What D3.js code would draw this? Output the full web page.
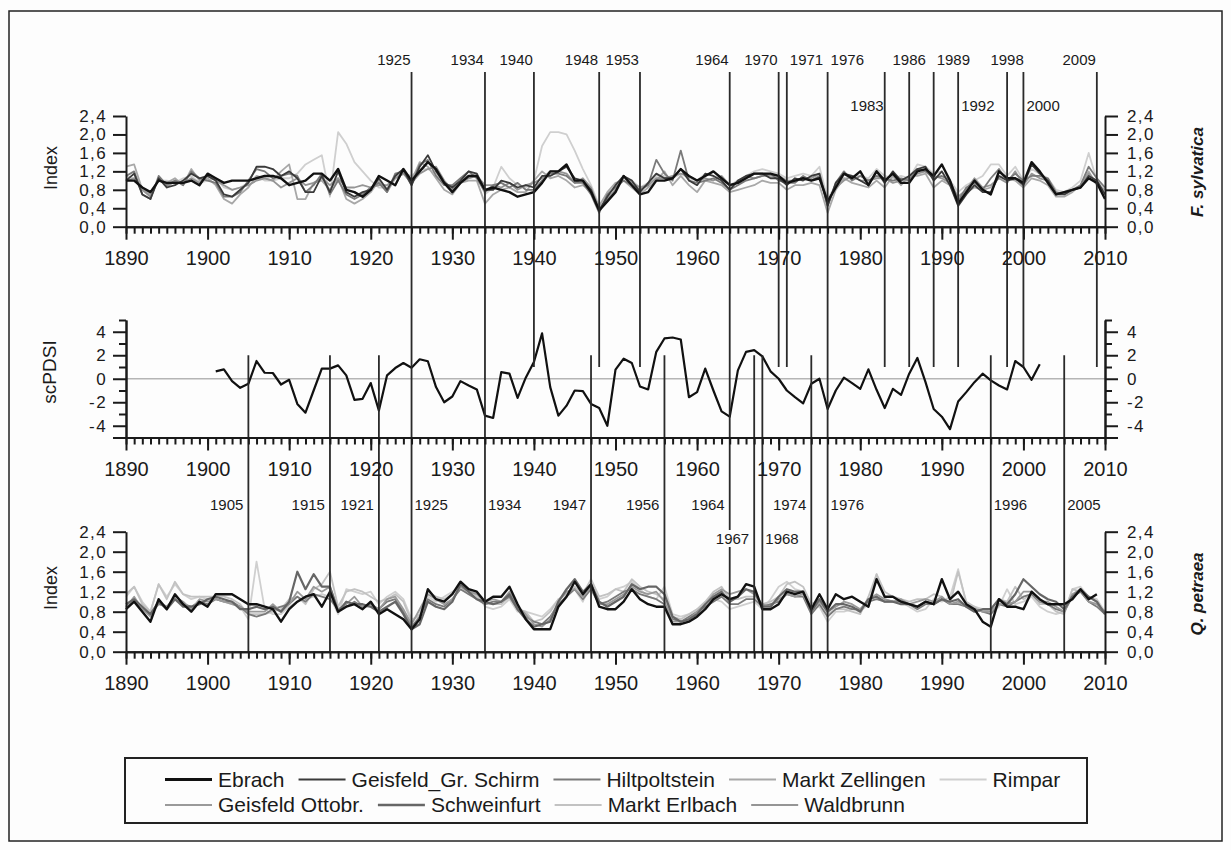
<!DOCTYPE html>
<html>
<head>
<meta charset="utf-8">
<script src="https://cdn.jsdelivr.net/npm/d3@7"></script>
<style>
  body { margin: 0; background: #fdfdfd; }
  text { font-family: Arial, "Liberation Sans", sans-serif; fill: #1a1a1a; }
</style>
</head>
<body>
<div id="chart"></div>
<script>
// ---- data ----
var years = d3.range(1890, 2011);

// F. sylvatica ring-width indices (1890-2010)
var beechEbrach = [
  1.0, 1.0, 0.85, 0.75, 1.0, 0.95, 0.95, 0.95, 1.0, 0.9,
  1.15, 1.05, 0.95, 1.0, 1.0, 1.0, 1.05, 1.1, 1.1, 1.05,
  0.9, 0.95, 1.0, 1.15, 1.15, 1.0, 1.25, 0.8, 0.75, 0.65,
  0.8, 1.1, 1.0, 0.9, 1.25, 1.0, 1.2, 1.4, 1.25, 0.95,
  0.75, 0.95, 1.1, 1.1, 0.8, 0.85, 0.8, 0.75, 0.65, 0.7,
  0.75, 0.95, 1.2, 1.2, 1.35, 1.0, 1.0, 0.75, 0.35, 0.55,
  0.75, 1.1, 0.9, 0.7, 0.75, 1.0, 1.0, 1.05, 1.25, 1.1,
  1.0, 1.1, 1.2, 1.05, 0.9, 0.95, 1.05, 1.15, 1.15, 1.15,
  1.1, 0.95, 1.0, 1.05, 1.0, 1.05, 0.55, 0.85, 1.15, 1.05,
  1.2, 0.9, 1.2, 1.0, 1.15, 0.95, 0.95, 1.2, 1.25, 1.1,
  1.35, 1.0, 0.5, 0.75, 1.0, 0.8, 0.7, 1.2, 1.05, 1.05,
  0.95, 1.4, 1.2, 0.95, 0.7, 0.75, 0.8, 0.85, 1.05, 0.95, 0.6
];
var beechGeisfeldGr = [
  1.0, 1.15, 0.7, 0.6, 1.05, 0.85, 0.9, 1.0, 1.15, 1.05,
  1.1, 1.0, 0.7, 0.65, 0.8, 0.95, 1.3, 1.3, 1.25, 1.1,
  1.2, 1.05, 0.75, 0.75, 1.1, 0.75, 1.2, 0.75, 0.65, 0.75,
  0.8, 1.05, 0.8, 1.1, 1.25, 0.9, 1.3, 1.55, 1.2, 0.95,
  0.85, 1.0, 1.2, 1.15, 0.8, 0.8, 1.0, 0.95, 0.85, 0.9,
  0.85, 1.1, 1.1, 1.2, 1.3, 1.05, 1.0, 0.8, 0.35, 0.65,
  0.9, 1.1, 1.0, 0.75, 0.95, 1.15, 1.05, 1.05, 1.25, 1.0,
  0.9, 1.15, 1.1, 1.0, 0.8, 1.0, 1.1, 1.15, 1.15, 1.05,
  1.05, 0.9, 1.05, 1.0, 1.1, 1.15, 0.45, 0.95, 1.15, 1.1,
  1.0, 0.9, 1.2, 0.95, 1.2, 1.0, 1.1, 1.25, 1.3, 1.0,
  1.2, 0.9, 0.45, 0.7, 0.9, 0.75, 0.75, 1.1, 1.0, 1.05,
  0.9, 1.35, 1.15, 1.0, 0.7, 0.7, 0.8, 0.85, 1.1, 1.0, 0.7
];
var beechHiltpoltstein = [
  1.1, 1.2, 0.7, 0.6, 1.1, 0.9, 1.0, 0.9, 1.2, 1.05,
  1.0, 0.95, 0.65, 0.65, 0.75, 1.0, 1.25, 1.2, 1.05, 1.1,
  1.15, 1.1, 0.75, 0.9, 1.15, 0.7, 1.0, 0.7, 0.6, 0.7,
  0.85, 0.95, 0.75, 1.15, 1.2, 0.9, 1.35, 1.45, 1.1, 0.9,
  0.9, 1.05, 1.2, 1.05, 0.75, 0.9, 0.95, 0.85, 0.95, 0.8,
  0.8, 1.0, 1.15, 1.15, 1.1, 0.95, 0.95, 0.7, 0.3, 0.7,
  0.85, 1.0, 0.9, 0.8, 0.9, 1.45, 1.15, 1.0, 1.65, 1.0,
  0.95, 1.0, 1.05, 0.95, 0.8, 0.9, 1.0, 1.05, 1.1, 1.15,
  1.0, 0.95, 0.95, 1.1, 1.0, 1.1, 0.45, 0.95, 1.2, 1.0,
  1.1, 1.0, 1.1, 1.05, 1.0, 1.05, 1.0, 1.25, 1.2, 1.05,
  1.1, 1.0, 0.55, 0.85, 0.95, 0.8, 1.05, 1.25, 1.0, 1.15,
  1.0, 1.1, 1.1, 1.05, 0.75, 0.7, 0.8, 0.9, 1.3, 1.05, 0.85
];
var beechZellingen = [
  1.3, 1.35, 0.8, 0.7, 1.0, 0.95, 1.05, 0.9, 1.25, 1.0,
  1.05, 0.9, 0.6, 0.5, 0.7, 0.85, 1.1, 1.05, 1.0, 1.2,
  1.35, 0.6, 0.6, 0.95, 1.0, 0.8, 1.05, 0.6, 0.5, 0.6,
  0.75, 1.0, 0.75, 1.05, 1.15, 1.0, 1.4, 1.3, 1.05, 0.8,
  0.7, 0.95, 1.0, 1.0, 0.5, 0.7, 0.8, 0.85, 0.75, 0.75,
  1.0, 1.2, 1.05, 1.1, 1.0, 0.85, 0.9, 0.75, 0.45, 0.75,
  0.95, 1.0, 0.85, 0.7, 0.85, 1.0, 1.2, 0.9, 1.1, 0.9,
  0.75, 1.0, 0.95, 0.9, 0.75, 0.8, 0.85, 0.9, 1.0, 0.95,
  0.95, 0.8, 0.9, 0.9, 0.95, 0.9, 0.3, 0.8, 1.05, 0.95,
  0.9, 0.85, 1.0, 0.85, 1.1, 0.9, 1.1, 1.1, 1.15, 0.85,
  1.0, 0.9, 0.5, 0.75, 0.85, 0.8, 0.85, 1.1, 1.05, 1.0,
  0.85, 1.05, 1.0, 0.9, 0.65, 0.65, 0.75, 0.9, 1.2, 0.9, 0.8
];
var beechRimpar = [
  1.1, 1.05, 0.8, 0.75, 1.0, 1.0, 0.95, 1.05, 1.1, 0.95,
  1.0, 1.05, 0.85, 0.8, 0.85, 0.95, 1.1, 1.0, 1.0, 1.05,
  1.05, 1.15, 1.35, 1.45, 1.55, 0.65, 2.05, 1.8, 1.4, 1.2,
  1.0, 0.85, 0.85, 1.1, 1.15, 1.1, 1.25, 1.25, 1.15, 0.95,
  0.85, 1.05, 1.1, 1.15, 0.7, 0.85, 1.3, 1.05, 0.9, 0.85,
  1.0, 1.75, 2.05, 2.05, 2.0, 1.65, 1.25, 0.9, 0.45, 0.7,
  0.85, 1.05, 1.0, 0.85, 0.95, 1.1, 1.1, 1.05, 1.15, 1.05,
  1.0, 1.15, 1.1, 1.05, 0.9, 1.0, 1.1, 1.2, 1.25, 1.2,
  1.15, 1.05, 1.1, 1.15, 1.1, 1.3, 0.6, 0.9, 1.05, 1.1,
  1.1, 1.05, 1.25, 1.1, 1.05, 1.1, 1.05, 1.35, 1.3, 1.15,
  1.2, 1.0, 0.75, 0.9, 1.0, 1.1, 1.35, 1.35, 1.1, 1.3,
  1.0, 1.25, 1.15, 1.05, 0.8, 0.75, 0.85, 1.0, 1.6, 1.0, 0.8
];
var beechWaldbrunn = [
  1.0, 1.05, 0.8, 0.65, 1.05, 0.85, 1.0, 0.95, 1.05, 0.95,
  1.1, 1.0, 0.9, 0.8, 0.85, 0.9, 1.0, 1.05, 1.0, 0.85,
  0.95, 1.05, 0.9, 0.95, 1.05, 0.9, 1.05, 0.85, 0.85, 0.9,
  0.85, 0.9, 0.9, 1.05, 1.15, 0.95, 1.15, 1.25, 1.3, 1.0,
  0.8, 0.95, 1.05, 1.1, 0.9, 0.9, 0.85, 0.95, 0.8, 0.9,
  0.95, 1.05, 1.2, 1.2, 1.15, 0.95, 1.05, 0.85, 0.4, 0.6,
  0.8, 1.1, 0.95, 0.85, 0.9, 1.05, 1.05, 1.1, 1.15, 1.1,
  1.0, 1.05, 1.0, 1.1, 0.9, 0.95, 1.1, 1.05, 1.1, 1.1,
  1.1, 1.0, 1.0, 1.05, 1.05, 1.15, 0.55, 0.85, 1.0, 1.1,
  1.0, 1.0, 1.05, 1.05, 0.95, 1.0, 1.05, 1.15, 1.2, 1.1,
  1.05, 0.95, 0.65, 0.8, 1.05, 0.85, 0.9, 1.05, 0.95, 1.2,
  0.9, 1.15, 1.05, 1.0, 0.7, 0.75, 0.8, 0.85, 1.15, 0.95, 0.7
];

// Q. petraea ring-width indices (1890-2010)
var oakEbrach = [
  0.85, 1.0, 0.8, 0.6, 1.05, 0.85, 1.15, 0.95, 0.8, 1.0,
  0.9, 1.15, 1.15, 1.15, 1.05, 0.95, 0.95, 0.9, 0.85, 0.6,
  0.85, 1.0, 1.1, 1.15, 0.9, 1.2, 0.8, 0.9, 0.95, 0.85,
  1.0, 0.75, 0.85, 0.75, 0.65, 0.45, 0.65, 1.25, 1.05, 1.0,
  1.15, 1.4, 1.25, 1.2, 1.0, 1.1, 1.1, 1.3, 0.95, 0.65,
  0.45, 0.45, 0.45, 0.9, 1.1, 1.4, 1.15, 1.35, 0.9, 0.85,
  0.85, 1.0, 1.25, 1.05, 0.95, 0.9, 0.9, 0.55, 0.55, 0.6,
  0.7, 0.85, 1.05, 1.15, 1.05, 1.1, 1.35, 1.3, 0.85, 0.85,
  0.95, 1.2, 1.15, 1.2, 0.85, 1.15, 0.85, 1.15, 1.05, 1.1,
  1.0, 0.9, 1.45, 1.1, 1.1, 1.0, 0.95, 0.9, 1.0, 0.95,
  1.45, 1.05, 1.2, 0.95, 0.85, 0.6, 0.5, 1.05, 0.9, 0.9,
  0.85, 1.2, 1.05, 0.95, 0.95, 0.95, 1.05, 1.25, 1.05, 1.15, null
];
var oakGeisfeldOtt = [
  0.9, 1.1, 0.85, 0.7, 1.0, 0.9, 1.1, 1.0, 0.85, 1.05,
  1.0, 1.05, 1.0, 0.95, 0.9, 0.8, 0.8, 0.8, 0.95, 0.8,
  0.95, 1.2, 1.05, 1.3, 1.2, 1.3, 0.85, 0.95, 1.1, 0.9,
  0.9, 0.85, 1.05, 1.1, 0.85, 0.55, 0.85, 1.15, 1.05, 0.95,
  1.05, 1.3, 1.2, 1.15, 1.0, 1.05, 1.0, 1.2, 0.9, 0.75,
  0.55, 0.5, 0.65, 1.0, 1.2, 1.25, 1.1, 1.3, 0.95, 0.95,
  1.05, 1.15, 1.3, 1.2, 1.15, 1.2, 1.0, 0.6, 0.6, 0.65,
  0.8, 0.95, 1.15, 1.25, 1.15, 1.2, 1.25, 1.15, 0.95, 0.9,
  1.05, 1.15, 1.1, 1.15, 0.8, 1.0, 0.8, 0.9, 1.0, 0.95,
  0.85, 1.05, 1.15, 1.05, 1.0, 1.05, 0.95, 1.0, 1.05, 1.0,
  1.1, 0.95, 1.0, 0.9, 0.85, 0.8, 0.8, 0.95, 0.95, 1.0,
  1.2, 1.2, 1.0, 1.0, 0.9, 0.8, 1.15, 1.25, 1.0, 0.95, 0.8
];
var oakSchweinfurt = [
  0.95, 1.05, 0.9, 0.75, 1.0, 0.85, 1.05, 0.9, 0.9, 0.95,
  1.05, 1.1, 1.05, 1.0, 0.85, 0.85, 0.9, 0.85, 0.9, 0.8,
  1.0, 1.6, 1.25, 1.55, 1.3, 1.3, 0.8, 1.0, 0.95, 0.95,
  0.9, 0.8, 0.9, 1.0, 0.75, 0.45, 0.55, 1.0, 0.9, 0.85,
  1.0, 1.35, 1.2, 1.05, 1.0, 0.95, 1.0, 1.15, 0.85, 0.65,
  0.5, 0.55, 0.6, 1.0, 1.25, 1.45, 1.2, 1.35, 1.0, 0.9,
  1.0, 1.1, 1.35, 1.25, 1.3, 1.3, 1.15, 0.7, 0.6, 0.65,
  0.75, 0.95, 1.1, 1.2, 1.0, 1.1, 1.25, 1.2, 0.9, 0.9,
  1.1, 1.25, 1.2, 1.2, 0.8, 1.05, 0.8, 0.95, 0.95, 0.9,
  0.8, 1.05, 1.1, 1.0, 1.0, 0.95, 0.95, 0.9, 1.0, 0.95,
  1.05, 1.0, 1.05, 0.9, 0.8, 0.85, 0.85, 1.05, 0.95, 1.15,
  1.45, 1.3, 1.15, 1.05, 1.0, 0.85, 1.1, 1.25, 1.1, 1.0, 0.75
];
var oakErlbach = [
  1.15, 1.3, 0.95, 0.8, 1.35, 1.05, 1.4, 1.15, 1.1, 1.1,
  1.1, 1.1, 1.1, 1.05, 0.95, 0.75, 0.75, 0.75, 0.8, 0.85,
  1.05, 1.1, 0.95, 1.25, 1.35, 1.6, 0.9, 1.2, 1.25, 1.2,
  1.1, 1.0, 1.05, 1.15, 1.0, 0.6, 0.75, 1.2, 1.1, 1.05,
  1.15, 1.35, 1.25, 1.1, 0.95, 0.95, 0.95, 1.1, 0.85, 0.8,
  0.6, 0.65, 0.8, 1.05, 1.15, 1.3, 1.15, 1.45, 1.1, 1.15,
  1.25, 1.2, 1.45, 1.3, 1.2, 1.15, 1.05, 0.7, 0.65, 0.75,
  0.85, 1.0, 1.2, 1.3, 1.05, 1.05, 1.1, 1.1, 0.95, 1.0,
  1.1, 1.35, 1.4, 1.3, 0.95, 1.05, 0.75, 0.85, 0.85, 0.8,
  0.75, 1.1, 1.55, 1.2, 1.1, 1.05, 1.0, 1.05, 1.05, 1.15,
  1.1, 0.95, 1.6, 1.0, 0.9, 0.8, 0.85, 1.05, 1.0, 1.3,
  1.05, 1.15, 0.95, 0.95, 0.8, 0.75, 1.25, 1.2, 1.0, 0.95, 0.8
];
var oakHiltpoltstein = [
  0.9, 1.0, 0.85, 0.75, 0.95, 0.9, 1.05, 0.95, 0.9, 1.0,
  0.95, 1.05, 1.0, 1.0, 0.9, 0.75, 0.7, 0.75, 0.85, 0.9,
  0.95, 1.1, 1.0, 1.15, 1.1, 1.05, 0.85, 0.9, 1.0, 0.9,
  0.95, 0.85, 1.0, 1.05, 0.8, 0.5, 0.7, 1.05, 0.95, 0.9,
  1.05, 1.25, 1.15, 1.05, 0.95, 1.0, 1.0, 1.1, 0.85, 0.7,
  0.6, 0.55, 0.7, 0.95, 1.1, 1.25, 1.05, 1.25, 0.95, 1.0,
  1.1, 1.2, 1.25, 1.15, 1.1, 1.05, 0.95, 0.65, 0.6, 0.7,
  0.8, 0.9, 1.0, 1.1, 0.95, 0.95, 1.05, 1.05, 0.9, 0.95,
  1.0, 1.15, 1.1, 1.1, 0.75, 0.95, 0.7, 0.85, 0.9, 0.85,
  0.85, 1.0, 1.05, 1.0, 1.0, 1.0, 0.95, 0.85, 0.95, 0.95,
  1.05, 0.95, 0.95, 0.9, 0.85, 0.8, 0.75, 0.95, 0.9, 1.0,
  1.1, 1.15, 1.0, 0.95, 0.85, 0.8, 1.1, 1.2, 1.0, 0.9, 0.75
];
var oakRimpar = [
  1.1, 1.3, 1.0, 0.8, 1.35, 1.1, 1.35, 1.15, 1.05, 1.1,
  1.05, 1.05, 1.0, 0.95, 0.9, 0.65, 1.8, 0.85, 0.75, 0.75,
  0.9, 1.0, 1.05, 1.1, 1.15, 1.1, 0.75, 1.25, 1.2, 1.15,
  1.2, 0.95, 1.1, 1.2, 1.05, 0.65, 0.7, 1.1, 1.0, 1.1,
  1.2, 1.3, 1.15, 1.2, 0.9, 0.85, 0.9, 1.05, 0.8, 0.8,
  0.75, 0.7, 0.85, 1.05, 1.15, 1.25, 1.0, 1.35, 1.05, 1.1,
  1.25, 1.3, 1.4, 1.25, 1.1, 1.05, 1.3, 0.75, 0.7, 0.75,
  0.85, 0.9, 1.05, 1.0, 0.85, 0.9, 0.95, 1.0, 0.85, 1.05,
  1.3, 1.4, 1.25, 1.2, 0.85, 0.9, 0.6, 0.8, 0.8, 0.85,
  0.8, 0.95, 1.55, 1.05, 1.0, 1.0, 0.9, 0.8, 0.85, 1.05,
  1.0, 1.1, 1.65, 0.95, 0.9, 0.85, 0.75, 0.9, 1.25, 0.95,
  1.0, 1.1, 0.9, 0.8, 0.75, 0.8, 1.25, 1.3, 1.1, 1.05, 0.8
];

// scPDSI (1901-2002)
var pdsiYears = d3.range(1901, 2003);
var pdsiValues = [
  0.63, 0.8, -0.2, -0.77, -0.43, 1.51, 0.51, 0.49, -0.49, -0.09,
  -2.14, -2.89, -1.0, 0.86, 0.86, 1.14, 0.29, -1.8, -1.71, -0.37,
  -2.71, 0.29, 0.91, 1.34, 0.94, 1.66, 1.49, -0.71, -2.0, -1.51,
  -0.2, -0.57, -0.91, -3.14, -3.34, 0.57, 0.43, -1.63, 0.09, 1.43,
  3.86, -0.71, -3.14, -2.29, -1.0, -1.06, -2.14, -2.49, -4.0, 0.77,
  1.71, 1.34, -0.66, -0.91, 2.29, 3.43, 3.51, 3.34, -1.57, -1.14,
  0.86, -1.0, -2.77, -3.23, 0.71, 2.29, 2.43, 1.91, 0.63, 0.0,
  -1.0, -1.57, -2.09, -0.43, 0.0, -2.57, -1.0, 0.09, -0.37, -0.86,
  0.8, -0.94, -2.49, -0.86, -1.37, 0.43, 1.77, -0.29, -2.57, -3.23,
  -4.29, -1.94, -1.14, -0.29, 0.43, -0.14, -0.57, -0.91, 1.51, 1.0,
  -0.09, 1.23
];

var beechSeries = [
  { site: 'Rimpar', values: beechRimpar },
  { site: 'Markt Zellingen', values: beechZellingen },
  { site: 'Waldbrunn', values: beechWaldbrunn },
  { site: 'Hiltpoltstein', values: beechHiltpoltstein },
  { site: 'Geisfeld_Gr. Schirm', values: beechGeisfeldGr },
  { site: 'Ebrach', values: beechEbrach }
];
var oakSeries = [
  { site: 'Rimpar', values: oakRimpar },
  { site: 'Markt Erlbach', values: oakErlbach },
  { site: 'Hiltpoltstein', values: oakHiltpoltstein },
  { site: 'Geisfeld Ottobr.', values: oakGeisfeldOtt },
  { site: 'Schweinfurt', values: oakSchweinfurt },
  { site: 'Ebrach', values: oakEbrach }
];

var legendRows = [
  ['Ebrach', 'Geisfeld_Gr. Schirm', 'Hiltpoltstein', 'Markt Zellingen', 'Rimpar'],
  ['Geisfeld Ottobr.', 'Schweinfurt', 'Markt Erlbach', 'Waldbrunn']
];

// pointer years
var beechYears = [1925, 1934, 1940, 1948, 1953, 1964, 1970, 1971, 1976, 1983, 1986, 1989, 1992, 1998, 2000, 2009];
var oakYears = [1905, 1915, 1921, 1925, 1934, 1947, 1956, 1964, 1967, 1968, 1974, 1976, 1996, 2005];

var indexTicks = [0, 0.4, 0.8, 1.2, 1.6, 2.0, 2.4];
var pdsiMajor = [-5, -4, -2, 0, 2, 4];
var pdsiMinor = [-3, -1, 1, 3, 5];

// ---- styles / layout ----
var siteStyle = {
  'Ebrach': { color: '#111', width: 2.4 },
  'Geisfeld_Gr. Schirm': { color: '#3a3a3a', width: 1.8 },
  'Hiltpoltstein': { color: '#7a7a7a', width: 1.8 },
  'Markt Zellingen': { color: '#a8a8a8', width: 1.8 },
  'Rimpar': { color: '#cfcfcf', width: 1.8 },
  'Geisfeld Ottobr.': { color: '#9a9a9a', width: 1.8 },
  'Schweinfurt': { color: '#666', width: 2.2 },
  'Markt Erlbach': { color: '#c2c2c2', width: 1.8 },
  'Waldbrunn': { color: '#959595', width: 1.8 }
};
// label side and row for each pointer-year label
var beechLabelPlace = {
  1925: ['end', 1], 1934: ['end', 1], 1940: ['end', 1], 1948: ['end', 1], 1953: ['end', 1],
  1964: ['end', 1], 1970: ['end', 1], 1971: ['start', 1], 1976: ['start', 1], 1983: ['end', 2],
  1986: ['middle', 1], 1989: ['start', 1], 1992: ['start', 2], 1998: ['middle', 1],
  2000: ['start', 2], 2009: ['end', 1]
};
var oakLabelPlace = {
  1905: ['end', 1], 1915: ['end', 1], 1921: ['end', 1], 1925: ['start', 1], 1934: ['start', 1],
  1947: ['end', 1], 1956: ['end', 1], 1964: ['end', 1], 1967: ['end', 2], 1968: ['start', 2],
  1974: ['end', 1], 1976: ['start', 1], 1996: ['start', 1], 2005: ['start', 1]
};

var width = 1231, height = 850;
var svg = d3.select('#chart').append('svg').attr('width', width).attr('height', height);

svg.append('rect').attr('x', 9).attr('y', 11).attr('width', 1213).attr('height', 830)
  .attr('fill', '#fdfdfd').attr('stroke', '#222').attr('stroke-width', 1.5);

var xScale = d3.scaleLinear().domain([1890, 2010]).range([126, 1105]);
var yTop = d3.scaleLinear().domain([0, 2.4]).range([226.7, 116]);
var yMid = d3.scaleLinear().domain([-5, 5]).range([437.5, 320]);
var yBot = d3.scaleLinear().domain([0, 2.4]).range([651.7, 531.7]);

var commaFmt = function(d) { return d.toFixed(1).replace('.', ','); };

// ---- series ----
function drawSeries(series, yScale) {
  var line = d3.line()
    .defined(function(d) { return d != null; })
    .x(function(d, i) { return xScale(years[i]); })
    .y(function(d) { return yScale(d); });
  svg.append('g').selectAll('path').data(series).enter().append('path')
    .attr('d', function(s) { return line(s.values); })
    .attr('fill', 'none')
    .attr('stroke', function(s) { return siteStyle[s.site].color; })
    .attr('stroke-width', function(s) { return siteStyle[s.site].width; })
    .attr('stroke-linejoin', 'round');
}
drawSeries(beechSeries, yTop);
drawSeries(oakSeries, yBot);

// zero line + scPDSI curve
svg.append('line')
  .attr('x1', xScale(1890)).attr('x2', xScale(2010))
  .attr('y1', yMid(0)).attr('y2', yMid(0))
  .attr('stroke', '#b5b5b5').attr('stroke-width', 1.5);

var pdsiLine = d3.line()
  .x(function(d, i) { return xScale(pdsiYears[i]); })
  .y(function(d) { return yMid(d); });
svg.append('path').attr('d', pdsiLine(pdsiValues))
  .attr('fill', 'none').attr('stroke', '#111').attr('stroke-width', 2.2)
  .attr('stroke-linejoin', 'round');

// ---- pointer-year lines ----
var evG = svg.append('g').attr('stroke', '#2a2a2a').attr('stroke-width', 1.8);
beechYears.forEach(function(yr) {
  var bottom = oakYears.indexOf(yr) >= 0 ? yBot(0) : yMid(1);
  evG.append('line').attr('x1', xScale(yr)).attr('x2', xScale(yr))
    .attr('y1', 72).attr('y2', bottom);
});
oakYears.forEach(function(yr) {
  if (beechYears.indexOf(yr) >= 0) return;
  evG.append('line').attr('x1', xScale(yr)).attr('x2', xScale(yr))
    .attr('y1', yMid(2)).attr('y2', yBot(0));
});

// ---- axes ----
function xAxes(y0) {
  svg.append('g').attr('transform', 'translate(0,' + y0 + ')')
    .call(d3.axisBottom(xScale).tickValues(years).tickSize(7).tickSizeOuter(0).tickFormat(''));
  svg.append('g').attr('class', 'xmaj').attr('transform', 'translate(0,' + y0 + ')')
    .call(d3.axisBottom(xScale).tickValues(d3.range(1890, 2011, 10)).tickSize(13).tickSizeOuter(0)
      .tickPadding(11).tickFormat(d3.format('d')));
}
xAxes(yTop(0));
xAxes(yMid(-5));
xAxes(yBot(0));

function yAxes(yScale, major, minor, fmt) {
  var l = svg.append('g').attr('class', 'yax').attr('transform', 'translate(' + xScale(1890) + ',0)');
  l.call(d3.axisLeft(yScale).tickValues(major).tickSize(13).tickSizeOuter(0).tickPadding(6).tickFormat(fmt));
  var r = svg.append('g').attr('class', 'yax').attr('transform', 'translate(' + xScale(2010) + ',0)');
  r.call(d3.axisRight(yScale).tickValues(major).tickSize(13).tickSizeOuter(0).tickPadding(9).tickFormat(fmt));
  if (minor) {
    svg.append('g').attr('transform', 'translate(' + xScale(1890) + ',0)')
      .call(d3.axisLeft(yScale).tickValues(minor).tickSize(7).tickSizeOuter(0).tickFormat(''));
    svg.append('g').attr('transform', 'translate(' + xScale(2010) + ',0)')
      .call(d3.axisRight(yScale).tickValues(minor).tickSize(7).tickSizeOuter(0).tickFormat(''));
  }
}
yAxes(yTop, indexTicks, null, commaFmt);
yAxes(yMid, pdsiMajor, pdsiMinor, function(d) { return d === -5 ? '' : d; });
yAxes(yBot, indexTicks, null, commaFmt);

svg.selectAll('.domain, .tick line').attr('stroke', '#1a1a1a').attr('stroke-width', 2);
svg.selectAll('.xmaj text').attr('font-size', 20).attr('fill', '#1a1a1a');
svg.selectAll('.yax text').attr('font-size', 17).attr('letter-spacing', 1.4).attr('fill', '#1a1a1a');

// ---- pointer-year labels ----
function eventLabels(list, place, rowY, gapEnd, masked) {
  list.forEach(function(yr) {
    var p = place[yr];
    var x = xScale(yr);
    var dx = p[0] === 'end' ? -gapEnd : (p[0] === 'start' ? 3 : 0);
    var g = svg.append('g');
    var t = g.append('text').attr('x', x + dx).attr('y', rowY[p[1] - 1])
      .attr('text-anchor', p[0]).attr('font-size', 15).text(yr);
    if (masked) {
      var b = t.node().getBBox();
      g.insert('rect', 'text').attr('x', b.x - 1).attr('y', b.y)
        .attr('width', b.width + 2).attr('height', b.height).attr('fill', '#fdfdfd');
    }
  });
}
eventLabels(beechYears, beechLabelPlace, [65, 110.5], 1, false);
eventLabels(oakYears, oakLabelPlace, [510, 544], 5, true);

// ---- axis titles ----
function vTitle(x, y, txt, size, style) {
  var t = svg.append('text').attr('transform', 'translate(' + x + ',' + y + ') rotate(-90)')
    .attr('text-anchor', 'middle').attr('font-size', size).text(txt);
  if (style) t.attr('font-style', 'italic').attr('font-weight', 'bold');
}
vTitle(57, 168, 'Index', 18);
vTitle(56, 372, 'scPDSI', 19);
vTitle(57, 588, 'Index', 18);
vTitle(1203, 172, 'F. sylvatica', 17, true);
vTitle(1203, 594, 'Q. petraea', 17, true);

// ---- legend ----
svg.append('rect').attr('x', 125).attr('y', 758).attr('width', 962).attr('height', 65)
  .attr('fill', 'none').attr('stroke', '#222').attr('stroke-width', 2);
var rowBase = [786.5, 812];
legendRows.forEach(function(row, ri) {
  var x = 165;
  row.forEach(function(name) {
    var st = siteStyle[name];
    svg.append('line').attr('x1', x).attr('x2', x + 47)
      .attr('y1', rowBase[ri] - 7).attr('y2', rowBase[ri] - 7)
      .attr('stroke', st.color).attr('stroke-width', st.width + 0.4);
    var t = svg.append('text').attr('x', x + 53).attr('y', rowBase[ri])
      .attr('font-size', 21).text(name);
    x += 53 + t.node().getComputedTextLength() + 14;
  });
});
</script>
</body>
</html>
